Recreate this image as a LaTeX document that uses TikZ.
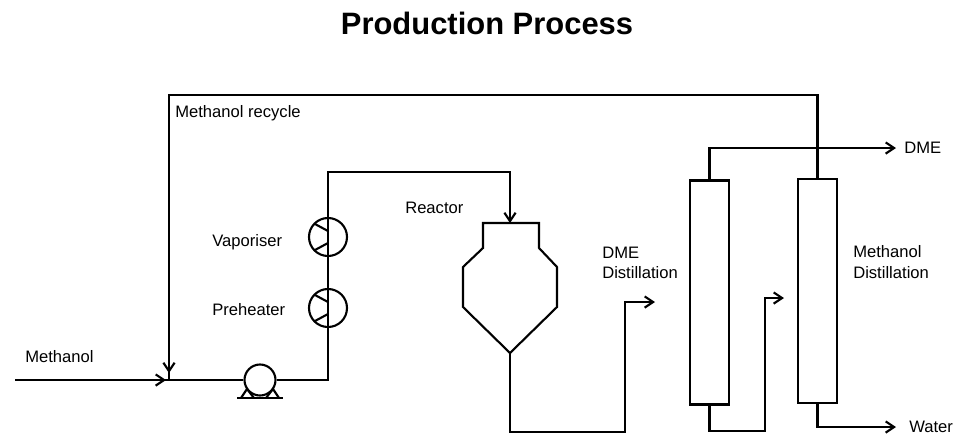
\documentclass[tikz,border=0pt]{standalone}
\usepackage{fontspec}
\setmainfont{Liberation Sans}
\usetikzlibrary{arrows.meta,calc}
\def\heatex(#1){\draw[pipe] (#1) circle (0.475cm);
	\draw[pipe] ($(#1)+(-13,-13)$) -- ($(#1)+(0,-6)$);
	\draw[pipe] ($(#1)+(-13,13)$) -- ($(#1)+(0,6)$);}
\tikzset{
	pipe/.style={line width=1.5pt},
	flow/.style={pipe, -{Straight Barb[length=6pt,width=8pt]}},
	lbl/.style={anchor=west, inner sep=0pt, align=left, font=\fontsize{11.8}{14.4}\selectfont},
	column/.style={draw, pipe, rectangle, inner sep=0pt, minimum width=0.975cm, minimum height=5.6cm},
}
\begin{document}
\begin{tikzpicture}[x=0.025cm, y=-0.025cm]
			%%%%% START %%%%%
			\useasboundingbox (0, 0) rectangle (955, 437);
			
			\node[font=\bfseries\fontsize{22}{26}\selectfont] (title) at (487, 23) {Production Process};
			
			% feed and recycle
			\coordinate (feed) at (15, 380);
			\coordinate (mix) at (169, 380);
			\coordinate (rec) at (169, 95);
			\node[lbl] (methanol) at (25, 357) {Methanol};
			\node[lbl] (recycle) at (175, 113) {Methanol recycle};
			
			% pump
			\node[draw, pipe, circle, inner sep=0pt, minimum size=0.775cm] (pump) at (260, 380) {};
			\draw[pipe] (237, 398) -- (283, 398);
			\draw[pipe] (241, 398) -- (247, 389) -- (254, 398);
			\draw[pipe] (266, 398) -- (273, 389) -- (279, 398);
			
			% heat exchangers
			\coordinate (riser) at (328, 380);
			\coordinate (vap) at (328, 237);
			\coordinate (preh) at (328, 308);
			\coordinate (top) at (328, 172);
			\heatex(vap)
			\heatex(preh)
			\node[lbl] (vaplbl) at (212, 242) {Vaporiser};
			\node[lbl] (prehlbl) at (212, 310) {Preheater};
			
			% reactor
			\coordinate (rtop) at (510, 223);
			\coordinate (rbot) at (510, 353);
			\draw[pipe] (483, 223) -- (539, 223) -- (539, 248) -- (557, 267) -- (557, 307) -- (rbot)
				-- (463, 307) -- (463, 267) -- (483, 248) -- cycle;
			\node[lbl] (reactor) at (405, 208) {Reactor};
			
			% columns
			\node[column] (dmecol) at (709.5, 292.5) {};
			\node[column] (mecol) at (817.5, 291) {};
			\node[lbl] (dmelbl) at (602, 263) {DME\\Distillation};
			\node[lbl] (melbl) at (853, 262) {Methanol\\Distillation};
			
			\coordinate (c1) at (625, 432);
			\coordinate (dmein) at (655, 302);
			\coordinate (c2) at (765, 431);
			\coordinate (mein) at (784, 298);
			\coordinate (dmeout) at (896, 148);
			\coordinate (waterout) at (896, 427);
			\node[lbl] (dme) at (904, 148) {DME};
			\node[lbl] (water) at (909, 427) {Water};
			
			% lines
			\draw[pipe] (feed) -- (pump);
			\draw[flow] (feed) -- ($(mix)+(-3, 0)$);
			\draw[pipe] (mecol.north) |- (rec) -- (mix);
			\draw[flow] (rec) -- ($(mix)+(0, -7)$);
			\draw[flow] (pump) -- (riser) -- (top) -| (rtop);
			\draw[flow] (rbot) |- (c1) |- (dmein);
			\draw[flow] (dmecol.north) |- (dmeout);
			\draw[flow] (dmecol.south) |- (c2) |- (mein);
			\draw[flow] (mecol.south) |- (waterout);
			
			%%%%% END %%%%%
		\end{tikzpicture}
\end{document}
